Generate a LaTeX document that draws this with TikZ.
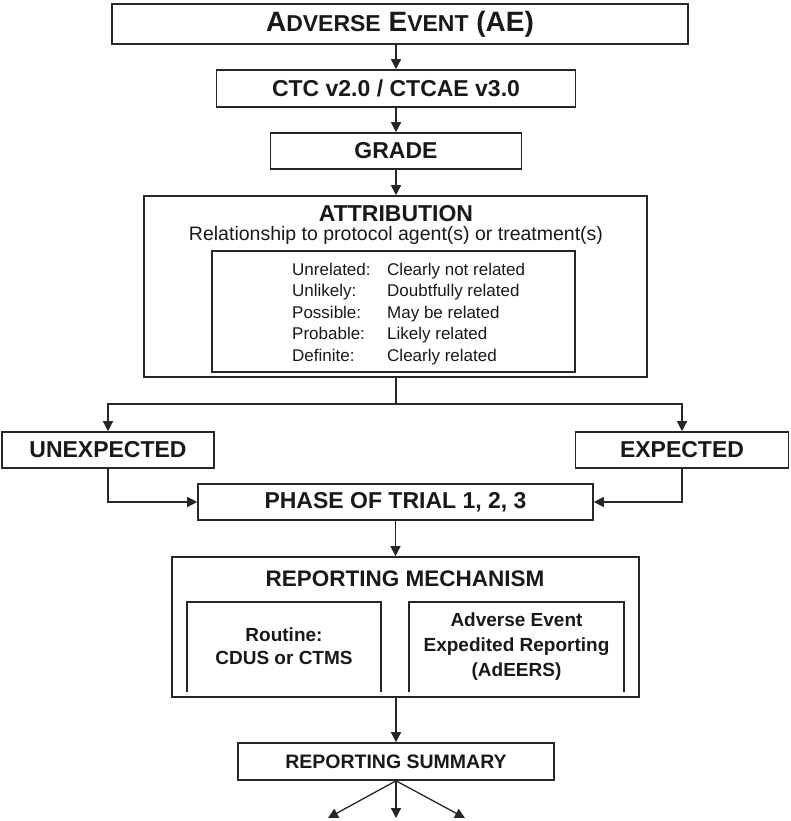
\documentclass[tikz,border=0pt]{standalone}
\usepackage{fontspec}
\setmainfont{Liberation Sans}
\usetikzlibrary{arrows.meta}
\newcommand{\fs}[1]{\fontsize{#1}{#1}\selectfont}
\newcommand{\bigc}[1]{{\fontsize{28}{30}\selectfont #1}}
\newcommand{\smc}[1]{{\fontsize{23}{30}\selectfont #1}}
\tikzset{
  box/.style={draw=black!85, line width=1.6pt, inner sep=0pt, align=center, font=\bfseries, text=black!90},
  plain/.style={inner sep=0pt, text=black!90},
  arr/.style={-{Triangle[length=10pt,width=10pt]}, line width=1.3pt, draw=black!85},
  ln/.style={line width=1.3pt, draw=black!85}
}
\begin{document}
\begin{tikzpicture}[x=1pt,y=-1pt]
\useasboundingbox (0,0) rectangle (790,821);
% top chain
\node[box, minimum width=576pt, minimum height=40pt, font=\bfseries\fs{28}] (ae) at (400,24)
  {\bigc{A}\smc{DVERSE} \bigc{E}\smc{VENT} \bigc{(AE)}};
\node[box, minimum width=359pt, minimum height=37pt, font=\bfseries\fs{23}] (ctc) at (396,88.5) {CTC v2.0 / CTCAE v3.0};
\node[box, minimum width=251pt, minimum height=36pt, font=\bfseries\fs{23}] (grade) at (396,151) {GRADE};
% attribution
\node[box, minimum width=503pt, minimum height=181pt] (attr) at (395.5,286.5) {};
\node[plain, anchor=base, font=\bfseries\fs{23}] (attrt) at (396,221) {ATTRIBUTION};
\node[plain, anchor=base, font=\fs{19.5}] (attrs) at (396,240) {Relationship to protocol agent(s) or treatment(s)};
\node[draw=black!85, line width=1.6pt, minimum width=363pt, minimum height=121pt, inner sep=0pt] (inner) at (393.5,311.5) {};
\foreach \y/\a/\b [count=\i] in {275/Unrelated:/Clearly not related, 296.5/Unlikely:/Doubtfully related, 318/Possible:/May be related, 339.5/Probable:/Likely related, 361/Definite:/Clearly related}{
  \node[plain, anchor=base west, font=\fs{17}] (l\i) at (292,\y) {\a};
  \node[plain, anchor=base west, font=\fs{17}] (v\i) at (387,\y) {\b};
}
% expected / unexpected
\node[box, minimum width=212pt, minimum height=36pt, font=\bfseries\fs{23}] (unexp) at (108,450) {UNEXPECTED};
\node[box, minimum width=213pt, minimum height=36pt, font=\bfseries\fs{23}] (exp) at (682,450) {EXPECTED};
\node[box, minimum width=395pt, minimum height=36pt, font=\bfseries\fs{23}] (phase) at (395.5,502) {PHASE OF TRIAL 1, 2, 3};
% reporting mechanism
\node[box, minimum width=467pt, minimum height=140pt] (rm) at (405.5,627) {};
\node[plain, anchor=base, font=\bfseries\fs{22.5}] (rmt) at (405,586) {REPORTING MECHANISM};
\draw[ln] (187,692) -- (187,602) -- (381,602) -- (381,692);
\draw[ln] (409,692) -- (409,602) -- (624,602) -- (624,692);
\node[plain, align=center, font=\bfseries\fontsize{19}{23}\selectfont] (rout) at (284,646.5) {Routine:\\CDUS or CTMS};
\node[plain, align=center, font=\bfseries\fontsize{19}{25}\selectfont] (adeers) at (516.5,647) {Adverse Event\\Expedited Reporting\\(AdEERS)};
% reporting summary
\node[box, minimum width=316pt, minimum height=37pt, font=\bfseries\fs{19.5}] (rs) at (396,761.5) {REPORTING SUMMARY};
\coordinate (o1) at (328,818);
\coordinate (o2) at (396,818);
\coordinate (o3) at (465,818);
\coordinate (split) at (396,404);
% connectors
\draw[arr] (ae.south -| ctc.north) -- (ctc.north);
\draw[arr] (ctc.south) -- (grade.north -| ctc.south);
\draw[arr] (grade.south) -- (attr.north -| grade.south);
\draw[ln] (attr.south -| split) -- (split);
\draw[arr] (split) -| (unexp.north);
\draw[arr] (split) -| (exp.north);
\draw[arr] (unexp.south) |- (phase.west);
\draw[arr] (exp.south) |- (phase.east);
\draw[arr] (phase.south) -- (phase.south |- rm.north);
\draw[arr] (rm.south -| rs.north) -- (rs.north);
\draw[arr] (rs.south) -- (o1);
\draw[arr] (rs.south) -- (o2);
\draw[arr] (rs.south) -- (o3);
\end{tikzpicture}
\end{document}
